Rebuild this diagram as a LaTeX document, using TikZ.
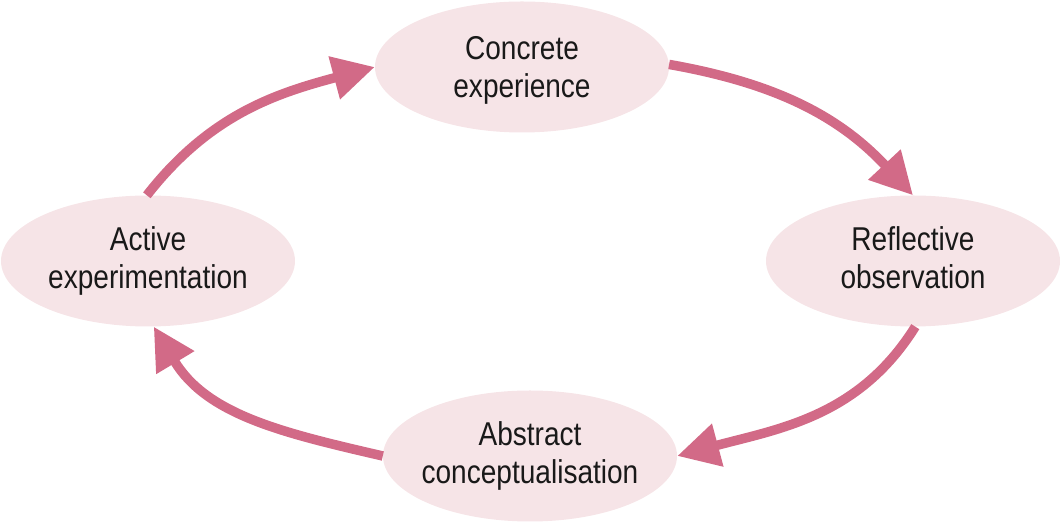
\documentclass[tikz,border=0pt]{standalone}
\usepackage{fontspec}
\setmainfont{Liberation Sans}[FakeStretch=0.85]
\usetikzlibrary{shapes.geometric,arrows.meta}
\definecolor{efill}{RGB}{246,228,231}
\definecolor{arr}{RGB}{210,106,135}
\definecolor{txt}{RGB}{25,25,25}
\newcommand{\twolines}[2]{\rule{0pt}{24pt}#1\\#2\rule[-7pt]{0pt}{7pt}}
\tikzset{
  stage/.style={ellipse, fill=efill, draw=none, minimum width=294pt, minimum height=131pt,
    inner sep=0pt},
  lbl/.style={inner sep=0pt, align=center, text=txt, font=\fontsize{33}{38}\selectfont},
  cyc/.style={draw=arr, line width=9.5pt, -{Triangle[length=42pt,width=42pt]}, arr}
}
\begin{document}
\begin{tikzpicture}[x=1pt,y=1pt]
\useasboundingbox (0,0) rectangle (1061,524);
\node[stage] (conc) at (522,457) {};
\node[stage] (refl) at (913,263) {};
\node[stage] (act) at (148,263) {};
\node[stage] (abs) at (530,68) {};
\node[lbl] (concT) at ([yshift=-3pt]conc.center) {\twolines{Concrete}{experience}};
\node[lbl] (reflT) at (refl.center) {\twolines{Reflective}{observation}};
\node[lbl] (actT) at (act.center) {\twolines{Active}{experimentation}};
\node[lbl] (absT) at (abs.center) {\twolines{Abstract}{conceptualisation}};
\draw[cyc] (act.91) to[out=52,in=-165] (conc.west);
\draw[cyc] (conc.1.5) to[out=-10,in=133] (refl.north);
\draw[cyc] (refl.-88) to[out=-122,in=15] (abs.east);
\draw[cyc] (abs.west) to[out=167,in=-59] (act.-85);
\end{tikzpicture}
\end{document}
